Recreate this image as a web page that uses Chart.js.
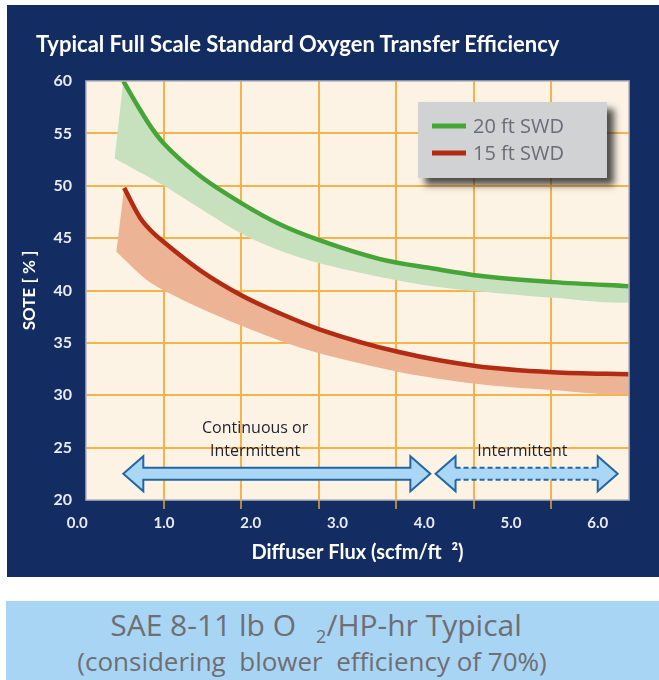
<!DOCTYPE html>
<html>
<head>
<meta charset="utf-8">
<script src="https://cdn.jsdelivr.net/npm/chart.js@4.4.1/dist/chart.umd.min.js"></script>
<style>
    body { margin: 0; background: #ffffff; width: 659px; height: 680px; overflow: hidden; }
    #panel { position: absolute; left: 7px; top: 5px; width: 652px; height: 572px; background: #132c61; }
    #panel canvas { position: absolute; left: 0; top: 0; }
    #chartTitle { position: absolute; left: 29px; top: 25px; line-height: 26px; font: bold 22px Lato, sans-serif; color: #ffffff; white-space: nowrap; }
    #sae { position: absolute; left: 6px; top: 601px; width: 653px; height: 79px; background: #a9d5f5; color: #6e6e73; font-family: "Open Sans", sans-serif; }
    #sae .l1 { position: absolute; left: 0; width: 620px; top: 6px; line-height: 36px; font-size: 30px; text-align: center; white-space: pre; }
    #sae .l1 sub { font-size: 18px; vertical-align: -7px; line-height: 0; margin-left: 20px; }
    #sae .l2 { position: absolute; left: 0; width: 612px; top: 45px; line-height: 30px; font-size: 26px; text-align: center; white-space: pre; }
</style>
</head>
<body>
<div id="panel">
    <canvas id="soteChart" width="652" height="572"></canvas>
    <div id="chartTitle">Typical Full Scale Standard Oxygen Transfer Efficiency</div>
</div>
<div id="sae">
    <div class="l1">SAE 8-11 lb O<sub>2</sub>/HP-hr Typical</div>
    <div class="l2">(considering  blower  efficiency of 70%)</div>
</div>
<script>
"use strict";

// diffuser flux tick labels (scfm/ft2) and SOTE range
var fluxTicks = [0, 1, 2, 3, 4, 5, 6];
var soteMin = 20, soteMax = 60, soteStep = 5;

// 20 ft SWD - upper curve and lower edge of its band
var swd20X = [0.53, 0.72, 0.85, 1.0, 1.42, 1.9, 2.34, 2.79, 3.49, 4.1, 4.64, 5.49, 6.4];
var swd20Y = [60.0, 57.3, 55.6, 54.0, 50.9, 48.3, 46.3, 44.8, 43.0, 42.1, 41.4, 40.8, 40.4];
var swd20LowX = [0.43, 0.61, 1.0, 1.42, 1.9, 2.34, 2.79, 3.49, 4.1, 4.64, 5.49, 6.4];
var swd20LowY = [52.6, 51.8, 50.0, 47.8, 45.4, 43.8, 42.6, 41.3, 40.4, 39.9, 39.3, 38.9];

// 15 ft SWD
var swd15X = [0.54, 0.72, 0.85, 1.0, 1.42, 1.9, 2.34, 2.79, 3.72, 4.59, 5.48, 6.4];
var swd15Y = [49.8, 47.0, 45.7, 44.6, 41.9, 39.5, 37.8, 36.3, 34.1, 32.8, 32.2, 32.0];
var swd15LowX = [0.45, 0.8, 1.0, 1.42, 1.9, 2.34, 2.79, 3.72, 4.59, 5.48, 6.4];
var swd15LowY = [43.7, 41.0, 40.0, 38.3, 36.6, 35.2, 34.0, 32.2, 31.1, 30.5, 30.2];

// operating ranges shown as arrows
var rangeStart = [0.53, 4.13];
var rangeEnd = [4.07, 6.23];
var rangeDashed = [false, true];
var rangeY = 22.5;
var rangeText = [["Continuous or", "Intermittent"], ["Intermittent"]];
var rangeTextX = [2.05, 5.13];
var rangeTextY = [24.6, 24.6];

var GREEN = '#45a537', GREEN_BAND = '#c7e1bf';
var RED = '#b22b12', RED_BAND = '#ecb394';

function pts(xs, ys) {
    return xs.map(function (x, i) { return { x: x, y: ys[i] }; });
}
function band(xs, ys, lowXs, lowYs) {
    return pts(lowXs, lowYs).concat(pts(xs, ys).reverse());
}

var plotFrame = {
    id: 'plotFrame',
    beforeDraw: function (chart) {
        var a = chart.chartArea, ctx = chart.ctx;
        ctx.save();
        ctx.fillStyle = '#fdf3e5';
        ctx.fillRect(a.left, a.top, a.right - a.left, a.bottom - a.top);
        ctx.restore();
    },
    afterDatasetsDraw: function (chart) {
        var a = chart.chartArea, ctx = chart.ctx;
        ctx.save();
        ctx.strokeStyle = '#b4b3ba';
        ctx.lineWidth = 1.5;
        ctx.strokeRect(a.left, a.top, a.right - a.left, a.bottom - a.top);
        ctx.restore();
    }
};

var rangeArrows = {
    id: 'rangeArrows',
    afterDatasetsDraw: function (chart) {
        var ctx = chart.ctx, xs = chart.scales.x, ys = chart.scales.y;
        var hl = 20, hh = 17.5, sh = 6;
        var y = ys.getPixelForValue(rangeY);
        ctx.save();
        rangeStart.forEach(function (s, i) {
            var x1 = xs.getPixelForValue(s), x2 = xs.getPixelForValue(rangeEnd[i]);
            ctx.beginPath();
            ctx.moveTo(x1, y);
            ctx.lineTo(x1 + hl, y - hh);
            ctx.lineTo(x1 + hl, y - sh);
            ctx.lineTo(x2 - hl, y - sh);
            ctx.lineTo(x2 - hl, y - hh);
            ctx.lineTo(x2, y);
            ctx.lineTo(x2 - hl, y + hh);
            ctx.lineTo(x2 - hl, y + sh);
            ctx.lineTo(x1 + hl, y + sh);
            ctx.lineTo(x1 + hl, y + hh);
            ctx.closePath();
            ctx.fillStyle = '#a9d7f5';
            ctx.fill();
            ctx.strokeStyle = '#2566a1';
            ctx.lineWidth = 2;
            ctx.lineJoin = 'miter';
            if (!rangeDashed[i]) {
                ctx.stroke();
            } else {
                ctx.beginPath();
                ctx.moveTo(x1 + hl, y - sh);
                ctx.lineTo(x1 + hl, y - hh);
                ctx.lineTo(x1, y);
                ctx.lineTo(x1 + hl, y + hh);
                ctx.lineTo(x1 + hl, y + sh);
                ctx.moveTo(x2 - hl, y - sh);
                ctx.lineTo(x2 - hl, y - hh);
                ctx.lineTo(x2, y);
                ctx.lineTo(x2 - hl, y + hh);
                ctx.lineTo(x2 - hl, y + sh);
                ctx.stroke();
                ctx.setLineDash([5, 3]);
                ctx.beginPath();
                ctx.moveTo(x1 + hl, y - sh);
                ctx.lineTo(x2 - hl, y - sh);
                ctx.moveTo(x1 + hl, y + sh);
                ctx.lineTo(x2 - hl, y + sh);
                ctx.stroke();
                ctx.setLineDash([]);
            }
        });
        ctx.fillStyle = '#1f2030';
        ctx.font = '16px "Open Sans", sans-serif';
        ctx.textAlign = 'center';
        ctx.textBaseline = 'middle';
        rangeText.forEach(function (lines, i) {
            var tx = xs.getPixelForValue(rangeTextX[i]);
            var ty = ys.getPixelForValue(rangeTextY[i]);
            lines.forEach(function (t, j) {
                ctx.fillText(t, tx, ty - (lines.length - 1 - j) * 23);
            });
        });
        ctx.restore();
    }
};

var boxLegend = {
    id: 'boxLegend',
    afterDraw: function (chart) {
        var a = chart.chartArea, ctx = chart.ctx;
        var w = 189, h = 76;
        var x0 = a.right - 22 - w, y0 = a.top + 21;
        ctx.save();
        ctx.shadowColor = 'rgba(20, 20, 20, 0.75)';
        ctx.shadowBlur = 7;
        ctx.shadowOffsetX = 7;
        ctx.shadowOffsetY = 7;
        ctx.fillStyle = '#d0d2d4';
        ctx.fillRect(x0, y0, w, h);
        ctx.restore();

        ctx.save();
        ctx.font = '20px "Open Sans", sans-serif';
        ctx.textBaseline = 'middle';
        var items = chart.data.datasets.filter(function (d) { return d.inLegend; });
        items.forEach(function (d, i) {
            var ly = y0 + 24 + i * 27;
            ctx.strokeStyle = d.borderColor;
            ctx.lineWidth = 5;
            ctx.beginPath();
            ctx.moveTo(x0 + 14, ly);
            ctx.lineTo(x0 + 48, ly);
            ctx.stroke();
            ctx.fillStyle = '#6a6c78';
            ctx.fillText(d.label, x0 + 55, ly + 1);
        });
        ctx.restore();
    }
};

var ctx = document.getElementById('soteChart').getContext('2d');

new Chart(ctx, {
    type: 'scatter',
    data: {
        datasets: [
            {
                label: '20 ft SWD', inLegend: true, xAxisID: 'x', yAxisID: 'y',
                data: pts(swd20X, swd20Y),
                showLine: true, borderColor: GREEN, borderWidth: 4.5,
                pointRadius: 0, cubicInterpolationMode: 'monotone', fill: false
            },
            {
                label: '15 ft SWD', inLegend: true, xAxisID: 'x', yAxisID: 'y',
                data: pts(swd15X, swd15Y),
                showLine: true, borderColor: RED, borderWidth: 4.5,
                pointRadius: 0, cubicInterpolationMode: 'monotone', fill: false
            },
            {
                label: '20 ft SWD range', xAxisID: 'x', yAxisID: 'y',
                data: band(swd20X, swd20Y, swd20LowX, swd20LowY),
                showLine: true, borderWidth: 0, borderColor: 'transparent',
                backgroundColor: GREEN_BAND, pointRadius: 0, tension: 0.3, fill: 'shape'
            },
            {
                label: '15 ft SWD range', xAxisID: 'x', yAxisID: 'y',
                data: band(swd15X, swd15Y, swd15LowX, swd15LowY),
                showLine: true, borderWidth: 0, borderColor: 'transparent',
                backgroundColor: RED_BAND, pointRadius: 0, tension: 0.3, fill: 'shape'
            }
        ]
    },
    options: {
        responsive: false,
        animation: false,
        layout: { padding: { left: 12, right: 30, top: 76, bottom: 12 } },
        plugins: {
            legend: { display: false },
            tooltip: { enabled: false },
            title: { display: false }
        },
        scales: {
            // grid of the plot (7 columns)
            xg: {
                type: 'linear', position: 'bottom', weight: 0,
                min: 0, max: 7,
                ticks: { stepSize: 1, display: false },
                grid: {
                    color: function (c) { return (c.tick.value === 0 || c.tick.value === 7) ? 'transparent' : '#f8b24a'; },
                    tickColor: function (c) { return (c.tick.value === 0 || c.tick.value === 7) ? 'transparent' : '#b8843a'; },
                    lineWidth: 2, drawTicks: true, tickLength: 9
                },
                border: { display: false },
                afterFit: function (s) { s.height = 9; }
            },
            x: {
                type: 'linear', position: 'bottom', weight: 1,
                min: 0.1, max: 6.36,
                afterBuildTicks: function (s) {
                    s.ticks = fluxTicks.map(function (v) { return { value: v }; });
                },
                ticks: {
                    autoSkip: false, maxRotation: 0, padding: 5,
                    color: '#e9ebf2',
                    font: { family: 'Lato', size: 15, weight: 'bold' },
                    callback: function (v) { return Number(v).toFixed(1); }
                },
                grid: { display: false, drawTicks: false },
                border: { display: false },
                title: {
                    display: true, text: 'Diffuser Flux (scfm/ft  ²)',
                    color: '#ffffff', padding: 0,
                    font: { family: 'Lato', size: 20, weight: 'bold' }
                },
                afterFit: function (s) { s.height = 56; }
            },
            y: {
                min: soteMin, max: soteMax,
                ticks: {
                    stepSize: soteStep, padding: 14,
                    color: '#e9ebf2',
                    font: { family: 'Lato', size: 16, weight: 'bold' }
                },
                grid: {
                    color: function (c) { return (c.tick.value === soteMin || c.tick.value === soteMax) ? 'transparent' : '#f8b24a'; },
                    lineWidth: 2, drawTicks: false
                },
                border: { display: false },
                title: {
                    display: true, text: 'SOTE [ % ]',
                    color: '#ffffff', padding: 0,
                    font: { family: 'Lato', size: 17, weight: 'bold' }
                },
                afterFit: function (s) { s.width = 67; }
            }
        }
    },
    plugins: [plotFrame, rangeArrows, boxLegend]
});
</script>
</body>
</html>
